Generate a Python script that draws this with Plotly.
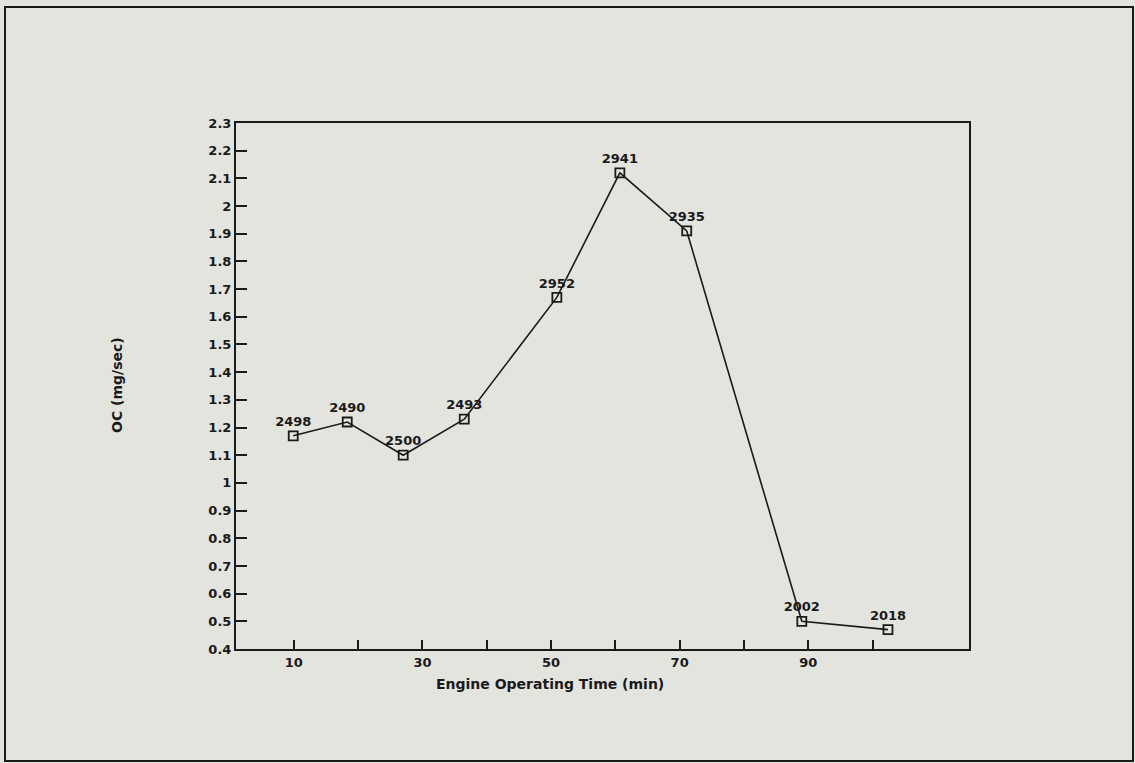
import plotly.graph_objects as go

# Data
time_min = [9.9, 18.3, 27.0, 36.5, 50.9, 60.7, 71.1, 89.0, 102.4]
oc_mg_sec = [1.17, 1.22, 1.10, 1.23, 1.67, 2.12, 1.91, 0.50, 0.47]
point_labels = ["2498", "2490", "2500", "2493", "2952", "2941", "2935", "2002", "2018"]

x_tick_vals = [10, 20, 30, 40, 50, 60, 70, 80, 90, 100]
x_tick_text = ["10", "", "30", "", "50", "", "70", "", "90", ""]
y_tick_vals = [0.4, 0.5, 0.6, 0.7, 0.8, 0.9, 1.0, 1.1, 1.2, 1.3, 1.4, 1.5, 1.6,
               1.7, 1.8, 1.9, 2.0, 2.1, 2.2, 2.3]
y_tick_text = ["0.4", "0.5", "0.6", "0.7", "0.8", "0.9", "1", "1.1", "1.2", "1.3",
               "1.4", "1.5", "1.6", "1.7", "1.8", "1.9", "2", "2.1", "2.2", "2.3"]

BG = "#e4e4df"
INK = "#1a1a1a"
FONT = "DejaVu Sans"

fig = go.Figure()
fig.add_trace(go.Scatter(
    x=time_min, y=oc_mg_sec,
    mode="lines+markers+text",
    text=point_labels,
    textposition="top center",
    textfont=dict(family=FONT, size=13, color=INK, weight="bold"),
    line=dict(color=INK, width=1.6),
    marker=dict(symbol="square-open", size=9, color=INK, line=dict(width=1.8, color=INK)),
    showlegend=False,
    cliponaxis=False,
    hoverinfo="skip",
))

W, H = 1135, 763
L, R, T, B = 236, 969, 123, 649
pw, ph = R - L, B - T

def px_x(p):
    return (p - L) / pw

def px_y(p):
    return (B - p) / ph

fig.add_shape(type="rect", xref="paper", yref="paper",
              x0=px_x(5), x1=px_x(1133), y0=px_y(761), y1=px_y(7),
              line=dict(color=INK, width=2), fillcolor="rgba(0,0,0,0)", layer="below")

fig.add_annotation(text="Engine Operating Time (min)", xref="paper", yref="paper",
                   x=px_x(550), y=px_y(684), xanchor="center", yanchor="middle",
                   showarrow=False,
                   font=dict(family=FONT, size=14, color=INK, weight="bold"))
fig.add_annotation(text="OC (mg/sec)", xref="paper", yref="paper",
                   x=px_x(117), y=px_y(385), xanchor="center", yanchor="middle",
                   showarrow=False, textangle=-90,
                   font=dict(family=FONT, size=14, color=INK, weight="bold"))

fig.update_layout(
    width=W, height=H,
    margin=dict(l=L, r=W - R, t=T, b=H - B, pad=0),
    paper_bgcolor=BG, plot_bgcolor=BG,
    font=dict(family=FONT, size=13, color=INK),
    xaxis=dict(range=[1, 115], tickvals=x_tick_vals, ticktext=x_tick_text,
               ticks="inside", ticklen=9, tickwidth=2, tickcolor=INK,
               showline=True, linewidth=2, linecolor=INK, mirror=True,
               showgrid=False, zeroline=False,
               tickfont=dict(family=FONT, size=13, color=INK, weight="bold")),
    yaxis=dict(range=[0.4, 2.3], tickvals=y_tick_vals, ticktext=y_tick_text,
               ticks="inside", ticklen=11, tickwidth=2, tickcolor=INK,
               showline=True, linewidth=2, linecolor=INK, mirror=True,
               showgrid=False, zeroline=False,
               tickfont=dict(family=FONT, size=13, color=INK, weight="bold")),
)

fig.write_html("out.html", config={"displayModeBar": False},
               post_script="document.body.style.margin='0';document.body.style.padding='0';")
